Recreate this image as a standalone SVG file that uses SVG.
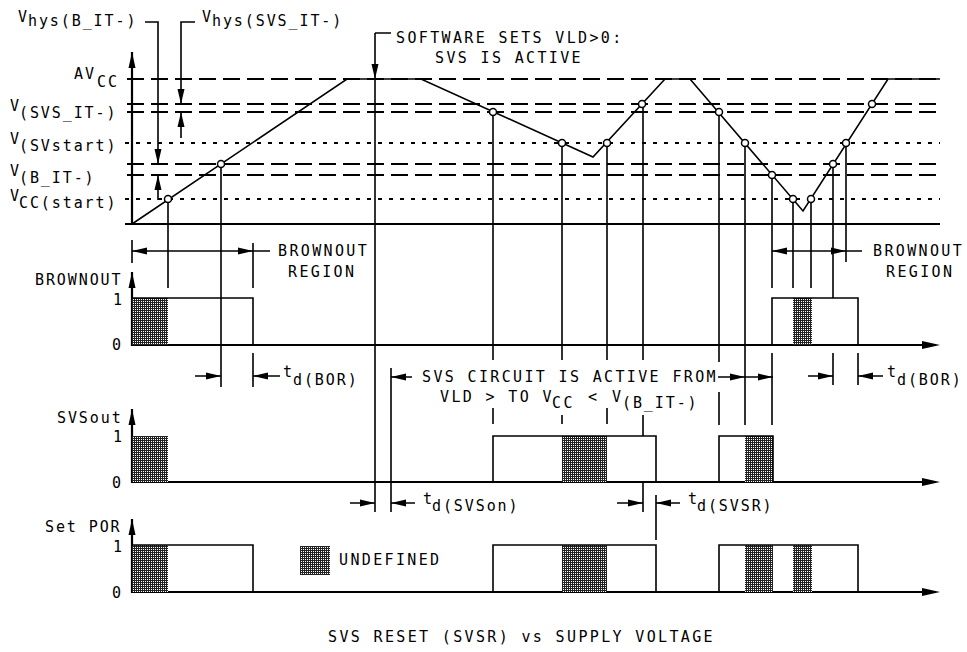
<svg xmlns="http://www.w3.org/2000/svg" width="967" height="652" viewBox="0 0 967 652">
<defs>
<pattern id="dots" width="2" height="2" patternUnits="userSpaceOnUse"><rect width="2" height="2" fill="#222"/><rect x="1" y="1" width="1" height="1" fill="#fff"/></pattern>
<style>
.ln{stroke:#000;stroke-width:1.6;fill:none}
.ax{stroke:#000;stroke-width:2.2;fill:none}
.da{stroke:#000;stroke-width:1.8;stroke-dasharray:17 7;fill:none}
.do{stroke:#000;stroke-width:1.8;stroke-dasharray:4 7;fill:none}
.ah{fill:#000}
.pt{fill:#fff;stroke:#000;stroke-width:1.5}
.sh{fill:url(#dots)}
text{font-family:"DejaVu Sans Mono","Liberation Mono",monospace;font-size:15px;fill:#000}
.a{letter-spacing:1.9px}
.b{letter-spacing:2.35px}
</style>
</defs>
<rect width="967" height="652" fill="#fff"/>

<g id="voltage-levels">
<path class="da" d="M127,79H940M127,104H940M127,112H940M127,164H940M127,175H940"/>
<path class="do" d="M125,143H940M125,199H940"/>
<path class="ax" d="M125,224H940"/>
</g>

<g id="axes">
<path class="ax" d="M132,52V224M132,272V345H925M132,409V482H925M132,519V592H925"/>
<polygon class="ah" points="128.5,68 135.5,68 132,52"/>
<polygon class="ah" points="128.5,288 135.5,288 132,272"/>
<polygon class="ah" points="128.5,425 135.5,425 132,409"/>
<polygon class="ah" points="128.5,535 135.5,535 132,519"/>
<polygon class="ah" points="922,341 922,349 940,345"/>
<polygon class="ah" points="922,478 922,486 940,482"/>
<polygon class="ah" points="922,588 922,596 940,592"/>
</g>

<g id="connectors">
<path class="ln" d="M132,240V263M168,199V288M221,164V387M253,243V288M253,353V387M375,33V512M375,33H391M391,368V512M493,112V360M493,408V424M562,143V360M562,415V424M607,143V360M607,408V424M643,104V360M643,415V436M643,482V512M656,495V540M719,112V362M719,392V425M745,143V425M772,175V288M772,353V425M793,199V288M811,199V288M833,164V298M833,353V385M846,143V262M858,353V385"/>
<path class="ln" d="M132,251H270M772,251H862M195,376H221M253,376H280M808,376H833M858,376H883M718,377H773M391,377H412M350,503H375M391,503H415M617,503H643M656,503H680"/>
<path class="ln" d="M145,22H158V164M158,200V175M195,22H181V104M181,138V112"/>
<polygon class="ah" points="154.5,149 161.5,149 158,164"/>
<polygon class="ah" points="154.5,190 161.5,190 158,175"/>
<polygon class="ah" points="177.5,89 184.5,89 181,104"/>
<polygon class="ah" points="177.5,127 184.5,127 181,112"/>
<polygon class="ah" points="371.5,64 378.5,64 375,79"/>
<polygon class="ah" points="147,247.5 147,254.5 132,251"/>
<polygon class="ah" points="238,247.5 238,254.5 253,251"/>
<polygon class="ah" points="787,247.5 787,254.5 772,251"/>
<polygon class="ah" points="831,247.5 831,254.5 846,251"/>
<polygon class="ah" points="206,372.5 206,379.5 221,376"/>
<polygon class="ah" points="268,372.5 268,379.5 253,376"/>
<polygon class="ah" points="818,372.5 818,379.5 833,376"/>
<polygon class="ah" points="873,372.5 873,379.5 858,376"/>
<polygon class="ah" points="730,373.5 730,380.5 745,377"/>
<polygon class="ah" points="758,373.5 758,380.5 773,377"/>
<polygon class="ah" points="406,373.5 406,380.5 391,377"/>
<polygon class="ah" points="360,499.5 360,506.5 375,503"/>
<polygon class="ah" points="406,499.5 406,506.5 391,503"/>
<polygon class="ah" points="628,499.5 628,506.5 643,503"/>
<polygon class="ah" points="671,499.5 671,506.5 656,503"/>
</g>

<g id="supply-curve">
<path class="ln" d="M132,224L347,79L421,79L593,157L665,79L690,79L803,211L888,79L940,79"/>
<circle class="pt" cx="168" cy="199" r="3.5"/>
<circle class="pt" cx="221" cy="164" r="3.5"/>
<circle class="pt" cx="493" cy="112" r="3.5"/>
<circle class="pt" cx="562" cy="143" r="3.5"/>
<circle class="pt" cx="607" cy="143" r="3.5"/>
<circle class="pt" cx="642" cy="104" r="3.5"/>
<circle class="pt" cx="719" cy="112" r="3.5"/>
<circle class="pt" cx="745" cy="143" r="3.5"/>
<circle class="pt" cx="772" cy="175" r="3.5"/>
<circle class="pt" cx="793" cy="199" r="3.5"/>
<circle class="pt" cx="811" cy="199" r="3.5"/>
<circle class="pt" cx="833" cy="164" r="3.5"/>
<circle class="pt" cx="846" cy="143" r="3.5"/>
<circle class="pt" cx="872" cy="104" r="3.5"/>
</g>

<g id="brownout-signal">
<rect class="sh" x="132" y="298" width="36" height="47"/>
<rect class="sh" x="793" y="298" width="19" height="47"/>
<path class="ln" d="M132,298H253V345M772,345V298H858V345"/>
</g>

<g id="svsout-signal">
<rect class="sh" x="132" y="436" width="36" height="46"/>
<rect class="sh" x="562" y="436" width="45" height="46"/>
<rect class="sh" x="745" y="436" width="28" height="46"/>
<path class="ln" d="M493,482V436H656V482M719,482V436H773V482"/>
</g>

<g id="setpor-signal">
<rect class="sh" x="132" y="545" width="36" height="47"/>
<rect class="sh" x="562" y="545" width="45" height="47"/>
<rect class="sh" x="745" y="545" width="28" height="47"/>
<rect class="sh" x="793" y="545" width="19" height="47"/>
<path class="ln" d="M132,545H253V592M493,592V545H656V592M719,592V545H858V592"/>
</g>

<g id="legend">
<rect class="sh" x="300" y="546" width="30" height="29"/>
<text class="b" x="339" y="565">UNDEFINED</text>
</g>

<g id="labels">
<text class="a" x="18" y="22">V</text><text class="a" x="28" y="26">hys(B_IT-)</text>
<text class="a" x="202" y="22">V</text><text class="a" x="212" y="26">hys(SVS_IT-)</text>
<text class="b" x="396" y="43">SOFTWARE SETS VLD&gt;0:</text>
<text class="b" x="435" y="63">SVS IS ACTIVE</text>
<text class="a" x="74" y="79">AV</text><text class="a" x="97" y="87">CC</text>
<text class="a" x="10" y="111">V</text><text class="a" x="19" y="118">(SVS_IT-)</text>
<text class="a" x="10" y="144">V</text><text class="a" x="19" y="151">(SVstart)</text>
<text class="a" x="10" y="176">V</text><text class="a" x="19" y="183">(B_IT-)</text>
<text class="a" x="10" y="201">V</text><text class="a" x="19" y="208">CC(start)</text>
<text class="a" x="35" y="285">BROWNOUT</text>
<text x="113" y="305">1</text><text x="112" y="350">0</text>
<text class="a" x="57" y="423">SVSout</text>
<text x="113" y="442">1</text><text x="112" y="488">0</text>
<text class="a" x="45" y="532">Set POR</text>
<text x="113" y="552">1</text><text x="112" y="598">0</text>
<text class="b" x="278" y="256">BROWNOUT</text>
<text class="b" x="288" y="277">REGION</text>
<text class="b" x="873" y="256">BROWNOUT</text>
<text class="b" x="886" y="277">REGION</text>
<text class="a" x="283" y="377">t</text><text class="a" x="293" y="385">d(BOR)</text>
<text class="a" x="887" y="377">t</text><text class="a" x="897" y="385">d(BOR)</text>
<text class="b" x="422" y="382">SVS CIRCUIT IS ACTIVE FROM</text>
<text class="b" x="440" y="402">VLD &gt; TO V</text><text class="b" x="552" y="408">CC</text>
<text class="b" x="588" y="402">&lt;</text><text class="b" x="612" y="402">V</text><text class="a" x="622" y="408">(B_IT-)</text>
<text class="a" x="423" y="504">t</text><text class="a" x="432" y="511">d(SVSon)</text>
<text class="a" x="688" y="504">t</text><text class="a" x="697" y="511">d(SVSR)</text>
<text class="b" x="328" y="642">SVS RESET (SVSR) vs SUPPLY VOLTAGE</text>
</g>
</svg>
